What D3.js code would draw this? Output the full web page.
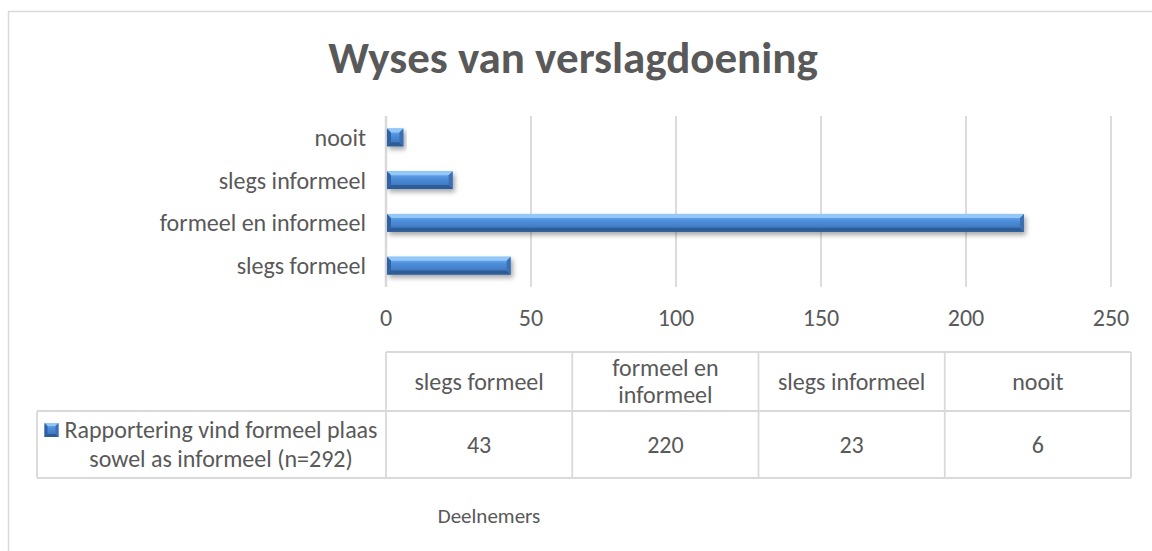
<!DOCTYPE html>
<html lang="en">
<head>
    <meta charset="UTF-8">
    <title>Wyses van verslagdoening</title>
    <style>
        body { margin: 0; background: #fff; }
        svg { display: block; font-family: Carlito, Lato, sans-serif; }
    </style>
    <script src="https://d3js.org/d3.v7.min.js"></script>
</head>
<body>
    <div id="chart"></div>
    <script>
        const categories = ["slegs formeel", "formeel en informeel", "slegs informeel", "nooit"];
        const values = [43, 220, 23, 6];
        const xTicks = [0, 50, 100, 150, 200, 250];
        const seriesName = "Rapportering vind formeel plaas sowel as informeel (n=292)";
        const chartTitle = "Wyses van verslagdoening";
        const axisTitle = "Deelnemers";

        const width = 1152, height = 551;
        const textColor = "#595959";
        const lineColor = "#d9d9d9";
        const fs = 24;

        const svg = d3.select("#chart").append("svg")
            .attr("width", width)
            .attr("height", height);

        const defs = svg.append("defs");
        const grad = defs.append("linearGradient")
            .attr("id", "barFill").attr("x1", 0).attr("y1", 0).attr("x2", 0).attr("y2", 1);
        grad.append("stop").attr("offset", "0%").attr("stop-color", "#78b6f2");
        grad.append("stop").attr("offset", "40%").attr("stop-color", "#4d8edb");
        grad.append("stop").attr("offset", "100%").attr("stop-color", "#386db3");

        const shadow = defs.append("filter").attr("id", "shadow")
            .attr("x", "-10%").attr("y", "-40%").attr("width", "130%").attr("height", "200%");
        shadow.append("feDropShadow")
            .attr("dx", 2).attr("dy", 3).attr("stdDeviation", 2.5)
            .attr("flood-color", "#000").attr("flood-opacity", 0.35);

        // outer chart border
        svg.append("rect")
            .attr("x", 8.5).attr("y", 11.5)
            .attr("width", 1160).attr("height", 560)
            .attr("fill", "none").attr("stroke", lineColor).attr("stroke-width", 1.5);

        svg.append("text")
            .attr("x", 573).attr("y", 73)
            .attr("text-anchor", "middle")
            .attr("font-size", 45).attr("font-weight", "bold")
            .attr("fill", textColor)
            .text(chartTitle);

        const x = d3.scaleLinear().domain([0, 250]).range([386, 1111]);
        const y = d3.scaleBand()
            .domain(categories.slice().reverse())
            .range([116, 287])
            .paddingInner(0.58)
            .paddingOuter(0.29);

        // gridlines
        svg.append("g")
            .selectAll("line")
            .data(xTicks)
            .join("line")
            .attr("x1", d => x(d)).attr("x2", d => x(d))
            .attr("y1", 116).attr("y2", 287)
            .attr("stroke", lineColor)
            .attr("stroke-width", d => d === 0 ? 2.5 : 1.8);

        // tick labels
        svg.append("g")
            .selectAll("text")
            .data(xTicks)
            .join("text")
            .attr("x", d => x(d)).attr("y", 318)
            .attr("dy", "0.35em")
            .attr("text-anchor", "middle")
            .attr("font-size", fs)
            .attr("fill", textColor)
            .text(d => d);

        // category labels
        svg.append("g")
            .selectAll("text")
            .data(categories)
            .join("text")
            .attr("x", 366)
            .attr("y", d => y(d) + y.bandwidth() / 2)
            .attr("dy", "0.35em")
            .attr("text-anchor", "end")
            .attr("font-size", fs)
            .attr("fill", textColor)
            .text(d => d);

        function bevel(g, x0, y0, x1, y1, b) {
            g.append("rect")
                .attr("x", x0).attr("y", y0)
                .attr("width", x1 - x0).attr("height", y1 - y0)
                .attr("fill", "url(#barFill)");
            const polys = [
                [[[x0, y0], [x1, y0], [x1 - b, y0 + b], [x0 + b, y0 + b]], "#93c7f8"],
                [[[x0, y1], [x1, y1], [x1 - b, y1 - b], [x0 + b, y1 - b]], "#2d5c94"],
                [[[x1, y0], [x1, y1], [x1 - b, y1 - b], [x1 - b, y0 + b]], "#3d70b0"],
                [[[x0, y0], [x0, y1], [x0 + b, y1 - b], [x0 + b, y0 + b]], "#2f62a3"]
            ];
            polys.forEach(([pts, c]) => {
                g.append("polygon")
                    .attr("points", pts.map(p => p.join(",")).join(" "))
                    .attr("fill", c);
            });
        }

        // bars
        const bars = svg.append("g");
        categories.forEach((c, i) => {
            const g = bars.append("g").attr("filter", "url(#shadow)");
            bevel(g, x(0) + 1, y(c), x(values[i]), y(c) + y.bandwidth(), 4);
        });

        // data table
        const tableLeft = 37, tableRight = 1131;
        const col = d3.scaleBand().domain(categories).range([386, tableRight]);
        const rowTop = 352, rowMid = 411, rowBottom = 478;

        const table = svg.append("g")
            .attr("stroke", lineColor).attr("stroke-width", 1.8).attr("fill", "none");
        table.append("line").attr("x1", 386).attr("x2", tableRight).attr("y1", rowTop).attr("y2", rowTop);
        table.append("line").attr("x1", tableLeft).attr("x2", tableRight).attr("y1", rowMid).attr("y2", rowMid);
        table.append("line").attr("x1", tableLeft).attr("x2", tableRight).attr("y1", rowBottom).attr("y2", rowBottom);
        table.append("line").attr("x1", tableLeft).attr("x2", tableLeft).attr("y1", rowMid).attr("y2", rowBottom);
        table.selectAll("line.v")
            .data(categories.map(c => col(c)).concat([tableRight]))
            .join("line")
            .attr("class", "v")
            .attr("x1", d => d).attr("x2", d => d)
            .attr("y1", rowTop).attr("y2", rowBottom);

        function wrapLines(words, maxW, size) {
            const probe = svg.append("text").attr("font-size", size).attr("visibility", "hidden");
            const lines = [];
            let cur = [];
            words.forEach(w => {
                const test = cur.concat([w]).join(" ");
                probe.text(test);
                if (cur.length && probe.node().getComputedTextLength() > maxW) {
                    lines.push(cur.join(" "));
                    cur = [w];
                } else {
                    cur.push(w);
                }
            });
            if (cur.length) lines.push(cur.join(" "));
            probe.remove();
            return lines;
        }

        const lh = 27;
        categories.forEach((c, i) => {
            const cx = col(c) + col.bandwidth() / 2;
            const lines = wrapLines(c.split(" "), col.bandwidth() - 12, fs);
            const t = svg.append("text")
                .attr("text-anchor", "middle")
                .attr("font-size", fs)
                .attr("fill", textColor);
            const cy = (rowTop + rowMid) / 2 - (lines.length - 1) * lh / 2;
            lines.forEach((l, k) => {
                t.append("tspan").attr("x", cx).attr("y", cy + k * lh).attr("dy", "0.35em").text(l);
            });
            svg.append("text")
                .attr("x", cx).attr("y", (rowMid + rowBottom) / 2)
                .attr("dy", "0.35em")
                .attr("text-anchor", "middle")
                .attr("font-size", fs)
                .attr("fill", textColor)
                .text(values[i]);
        });

        // legend cell
        const legLines = wrapLines(seriesName.split(" "), 330, fs);
        const legCx = 221;
        const legCy = (rowMid + rowBottom) / 2 - (legLines.length - 1) * 29 / 2;
        const lt = svg.append("text")
            .attr("text-anchor", "middle")
            .attr("font-size", fs)
            .attr("fill", textColor);
        legLines.forEach((l, k) => {
            lt.append("tspan").attr("x", legCx).attr("y", legCy + k * 29).attr("dy", "0.35em").text(l);
        });
        const firstW = lt.select("tspan").node().getComputedTextLength();
        const kx = Math.max(44, legCx - firstW / 2 - 20);
        bevel(svg.append("g"), kx, legCy - 7, kx + 14, legCy + 7, 3);

        svg.append("text")
            .attr("x", 489).attr("y", 516)
            .attr("dy", "0.35em")
            .attr("text-anchor", "middle")
            .attr("font-size", 21)
            .attr("fill", textColor)
            .text(axisTitle);
    </script>
</body>
</html>
